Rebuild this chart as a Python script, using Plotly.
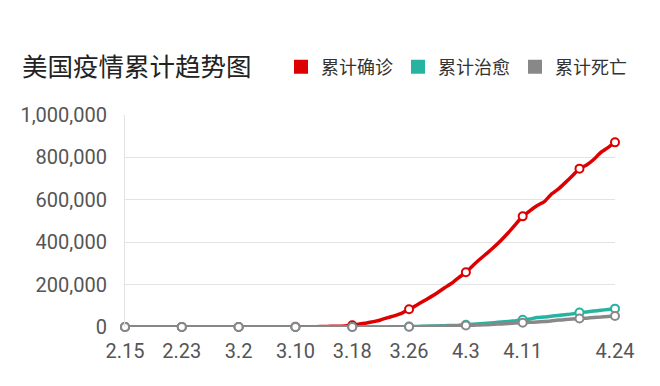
import pandas as pd
import plotly.graph_objects as go

dates = [f"{d.month}.{d.day}" for d in pd.date_range("2020-02-15", "2020-04-24")]

confirmed = [15, 15, 15, 15, 15, 15, 15, 35, 35, 35, 53, 57, 60, 60, 66,
             74, 89, 105, 125, 159, 233, 338, 445, 572, 717, 1010, 1336, 1725, 2269, 2995,
             3774, 4661, 7786, 13680, 19101, 25493, 33276, 43847, 53740, 65778, 83836,
             101657, 121478, 140886, 161807, 184770,
             206207, 233000, 258000, 290000, 320500, 348700, 378500, 410800, 445700, 484000,
             522000, 548000, 572000, 590000, 625000, 650000, 681000, 713000, 747000, 764000,
             790000, 824000, 846000, 871000]

recovered = [3, 3, 3, 3, 3, 3, 3, 5, 5, 5, 5, 5, 6, 6, 7,
             7, 7, 7, 7, 7, 7, 8, 8, 8, 8, 8, 8, 12, 12, 17,
             17, 17, 106, 106, 147, 171, 178, 178, 347, 361, 1868,
             2612, 3200, 4560, 5220, 6200,
             7100, 8200, 10500, 12600, 14900, 17800, 20500, 23500, 25800, 29000,
             34000, 37500, 45000, 47000, 51000, 54500, 58000, 62000, 68500, 71000,
             75000, 79000, 82500, 86500]

deaths = [0, 0, 0, 0, 0, 0, 0, 0, 0, 0, 0, 0, 0, 0, 1,
          1, 6, 9, 11, 12, 14, 17, 19, 22, 28, 36, 40, 47, 54, 63,
          85, 108, 118, 200, 244, 307, 427, 552, 706, 942, 1209,
          1581, 2026, 2467, 2978, 3873,
          4757, 5926, 7087, 8407, 9619, 10783, 12722, 14695, 16478, 18586,
          20500, 22000, 23600, 25800, 28500, 32900, 35000, 37200, 40000, 41800,
          44600, 46700, 49800, 51800]

tick_labels = ["2.15", "2.23", "3.2", "3.10", "3.18", "3.26", "4.3", "4.11", "4.24"]
marker_idx = list(range(0, len(dates), 8)) + [len(dates) - 1]

series = [
    ("累计确诊", confirmed, "#dd0000"),
    ("累计治愈", recovered, "#26b3a1"),
    ("累计死亡", deaths, "#888888"),
]

fig = go.Figure()
for name, vals, color in series:
    fig.add_trace(go.Scatter(
        x=dates, y=vals, mode="lines", name=name, showlegend=False,
        line=dict(color=color, width=3.5, shape="spline", smoothing=0.4),
        cliponaxis=False, hoverinfo="skip"))
    fig.add_trace(go.Scatter(
        x=[dates[i] for i in marker_idx], y=[vals[i] for i in marker_idx],
        mode="markers", name=name, showlegend=False, cliponaxis=False,
        marker=dict(size=8, color="white", line=dict(color=color, width=2))))
for name, vals, color in series:
    fig.add_trace(go.Scatter(
        x=[None], y=[None], mode="markers", name=name, showlegend=True,
        marker=dict(symbol="square", size=14, color=color)))

fig.update_layout(
    width=660, height=386,
    margin=dict(l=125, r=45, t=115, b=59, autoexpand=False),
    paper_bgcolor="white", plot_bgcolor="white",
    title=dict(text="美国疫情累计趋势图", x=22 / 660, xanchor="left",
               y=1 - 67 / 386, yanchor="middle",
               font=dict(family="Noto Sans CJK SC", size=25.5, color="#222222")),
    legend=dict(orientation="h", xref="container", yref="container",
                x=281 / 660, xanchor="left",
                y=1 - 67 / 386, yanchor="middle",
                font=dict(family="Noto Sans CJK SC", size=18, color="#333333"),
                itemclick=False, bgcolor="rgba(0,0,0,0)"),
    font=dict(family="Roboto", color="#555555"),
)
fig.update_xaxes(
    type="category", range=[0, len(dates) - 1],
    tickmode="array", tickvals=tick_labels, ticktext=tick_labels,
    showgrid=False, zeroline=False, showline=False, ticks="",
    tickfont=dict(family="Roboto", size=20, color="#555555"),
    ticklabelstandoff=10,
)
fig.update_yaxes(
    range=[0, 1000000], tickmode="array",
    tickvals=[0, 200000, 400000, 600000, 800000, 1000000],
    tickformat=",d", showgrid=True, gridcolor="#e3e3e3", gridwidth=1,
    zeroline=False, showline=True, linecolor="#e3e3e3", linewidth=1,
    ticks="", tickfont=dict(family="Roboto", size=20, color="#555555"),
    ticklabelstandoff=13,
)

fig.write_html("out.html")
